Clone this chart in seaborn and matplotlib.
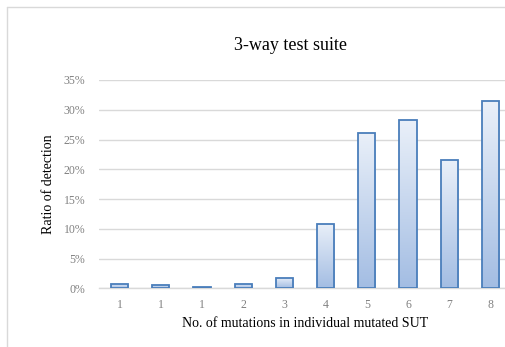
import numpy as np
import pandas as pd
import matplotlib
matplotlib.use("Agg")
import matplotlib.pyplot as plt
import seaborn as sns
from matplotlib.lines import Line2D

categories = ["1", "1", "1", "2", "3", "4", "5", "6", "7", "8"]
values = [0.8, 0.6, 0.3, 0.8, 1.7, 10.8, 26.1, 28.2, 21.6, 31.4]
yticks = [0, 5, 10, 15, 20, 25, 30, 35]
ytick_labels = ["0%", "5%", "10%", "15%", "20%", "25%", "30%", "35%"]

sns.set_theme(style="white")
plt.rcParams['font.family'] = ['Liberation Serif', 'DejaVu Serif']

df = pd.DataFrame({"pos": [str(i) for i in range(len(categories))], "val": values})

fig = plt.figure(figsize=(5.05, 3.47), dpi=100)
W, H = 505, 347
ax = fig.add_axes([99 / W, 1 - 288.3 / H, 412 / W, (288.3 - 80) / H])

sns.barplot(data=df, x="pos", y="val", ax=ax, width=0.42, color="#c8d7ef",
            edgecolor="#4a7ebb", linewidth=1.3, zorder=3)

ax.set_ylim(0, 35)
ax.set_xlim(-0.5, len(categories) - 0.5)
ax.set_yticks(yticks)
ax.set_yticklabels(ytick_labels)
ax.set_xticks(range(len(categories)))
ax.set_xticklabels(categories)
ax.tick_params(axis="both", length=0, labelsize=8.5, labelcolor="#808080")
ax.tick_params(axis="y", pad=10)
ax.tick_params(axis="x", pad=8)
ax.yaxis.grid(True, color="#d9d9d9", linewidth=1.0, zorder=0)
ax.set_axisbelow(True)
for s in ["top", "right", "left"]:
    ax.spines[s].set_visible(False)
ax.spines["bottom"].set_color("#d9d9d9")
ax.spines["bottom"].set_linewidth(1.0)

# gradient fill clipped to each bar
grad = np.linspace(0, 1, 256).reshape(-1, 1)
cmap = matplotlib.colors.LinearSegmentedColormap.from_list("g", ["#a3bde3", "#eaf0f9"])
for p in ax.patches:
    x0, y0 = p.get_x(), p.get_y()
    w, h = p.get_width(), p.get_height()
    im = ax.imshow(grad, extent=[x0, x0 + w, y0, y0 + h], origin="lower",
                   cmap=cmap, aspect="auto", zorder=3.5)
    im.set_clip_path(p)
    p.set_facecolor("none")
    p.set_zorder(4)

ax.set_xlim(-0.5, len(categories) - 0.5)
ax.set_ylim(0, 35)

ax.set_xlabel("No. of mutations in individual mutated SUT", fontsize=10, color="black", labelpad=4)
ax.set_ylabel("Ratio of detection", fontsize=10, color="black", labelpad=6)

fig.text(290 / W, 1 - 46 / H, "3-way test suite", ha="center", va="center",
         fontsize=13, color="black")

# outer frame (left and top edges)
fig.add_artist(Line2D([6.5 / W, 6.5 / W], [0, 1 - 6.5 / H], transform=fig.transFigure,
                      color="#d9d9d9", linewidth=1.0))
fig.add_artist(Line2D([6.5 / W, 1], [1 - 6.5 / H, 1 - 6.5 / H], transform=fig.transFigure,
                      color="#d9d9d9", linewidth=1.0))

fig.savefig("out.png", dpi=100)
